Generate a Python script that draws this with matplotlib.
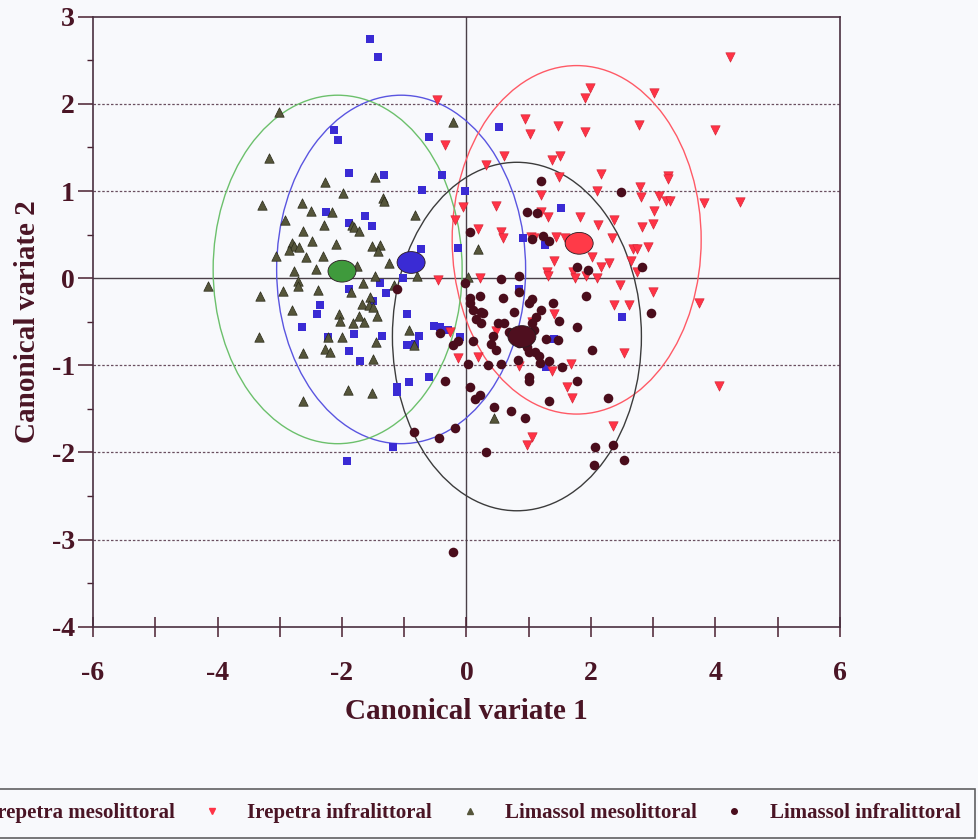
import numpy as np
import matplotlib
matplotlib.use('Agg')
import matplotlib.pyplot as plt
from matplotlib.patches import Ellipse
from matplotlib.lines import Line2D

# Irepetra mesolittoral (blue squares)
ire_meso_x = [-1.55, -1.42, -2.13, -2.06, -0.6, -1.89, -1.32, -0.39, -0.71, -0.03, -2.26, -1.63, -1.89,
              -1.52, -0.73, -0.13, -1.02, -1.39, -1.89, -1.29, -1.5, -2.35, -2.4, -0.95, -2.65, -0.53,
              -0.42, -0.29, -1.81, -1.35, -1.89, -1.71, -0.77, -0.95, -0.11, -0.92, -0.61, -1.11, -1.11,
              -1.18, -1.92, 0.52, 1.52, 0.9, 1.26, 0.84, 2.5, 1.4, 1.27, -2.23, -0.82]
ire_meso_y = [2.75, 2.54, 1.70, 1.59, 1.62, 1.21, 1.18, 1.18, 1.01, 1.0, 0.76, 0.71, 0.63,
              0.6, 0.33, 0.35, 0.0, -0.05, -0.12, -0.17, -0.26, -0.31, -0.41, -0.41, -0.56, -0.55,
              -0.56, -0.59, -0.64, -0.66, -0.84, -0.95, -0.66, -0.77, -0.68, -1.19, -1.14, -1.25, -1.31,
              -1.94, -2.1, 1.73, 0.8, 0.46, 0.38, -0.13, -0.45, -0.7, -1.02, -0.67, -0.76]

# Irepetra infralittoral (red down triangles)
ire_infra_x = [-0.47, -0.34, 0.31, -0.05, -0.18, 0.18, -0.45, 0.21,
               4.24, 1.98, 1.9, 3.02, 0.94, 1.47, 1.02, 1.9, 2.77, 4.0,
               0.61, 1.37, 1.5, 2.16, 1.48, 3.23, 3.24, 2.79, 2.1, 1.19, 2.81, 3.1, 3.21, 3.27, 3.82, 4.4,
               0.48, 3.02, 1.19, 1.82, 1.31, 2.37, 2.11, 2.82, 3.0,
               0.56, 0.58, 1.03, 1.08, 1.44, 1.58, 2.34, 2.68, 2.74, 2.92,
               2.02, 1.4, 2.29, 2.16, 2.65, 1.29, 1.31, 1.71, 1.74, 1.92, 2.1, 2.74,
               2.47, 3.0, 2.37, 2.61, 3.73, 1.4, 2.53, 1.68,
               1.05, -0.26, 0.47, -0.13, 0.19, 0.84, 1.37, 1.61, 1.69, 4.05, 2.35, 1.06, 0.98]
ire_infra_y = [2.05, 1.53, 1.3, 0.82, 0.67, 0.56, -0.02, 0.0,
               2.54, 2.18, 2.07, 2.13, 1.83, 1.75, 1.66, 1.68, 1.76, 1.7,
               1.4, 1.36, 1.4, 1.2, 1.16, 1.17, 1.14, 1.05, 1.0, 0.95, 0.93, 0.94, 0.88, 0.88, 0.86, 0.87,
               0.83, 0.77, 0.76, 0.7, 0.7, 0.67, 0.61, 0.59, 0.62,
               0.53, 0.46, 0.47, 0.46, 0.47, 0.46, 0.46, 0.34, 0.33, 0.36,
               0.24, 0.2, 0.17, 0.13, 0.2, 0.07, 0.02, 0.07, 0.0, 0.03, 0.0, 0.07,
               -0.08, -0.16, -0.31, -0.31, -0.29, -0.41, -0.86, -0.99,
               -0.5, -0.62, -0.61, -0.92, -0.9, -1.01, -1.06, -1.25, -1.37, -1.24, -1.7, -1.82, -1.91]

# Limassol mesolittoral (olive triangles)
lim_meso_x = [-3.02, -3.18, -0.21, -2.27, -1.47, -1.98, -1.34, -1.32, -3.29, -2.65, -2.5, -2.16, -0.82,
              -2.92, -2.29, -1.84, -1.8, -1.73, -2.63, -2.48, -2.8, -2.77, -2.69, -2.85, -2.1, -1.52,
              -1.39, -1.42, -3.06, -2.58, -2.31, -1.24, -1.76, -2.42, -2.77, -1.47, -0.79, 0.18, 0.03,
              -4.16, -3.32, -2.95, -2.71, -2.71, -2.39, -1.66, -1.85, -1.55, -1.68, -1.56, -1.5, -1.16,
              -2.81, -2.05, -1.73, -1.44, -2.03, -1.82, -1.65, -3.34, -2.23, -2.0, -1.45, -2.63, -2.27,
              -2.19, -1.5, -0.92, -0.85, -1.9, -1.52, -2.63, 0.44]
lim_meso_y = [1.91, 1.38, 1.79, 1.1, 1.16, 0.98, 0.92, 0.89, 0.84, 0.86, 0.77, 0.76, 0.72,
              0.67, 0.61, 0.61, 0.59, 0.54, 0.54, 0.43, 0.4, 0.37, 0.36, 0.32, 0.39, 0.37,
              0.38, 0.31, 0.26, 0.24, 0.25, 0.17, 0.14, 0.11, 0.08, 0.03, 0.03, 0.33, 0.01,
              -0.09, -0.2, -0.15, -0.03, -0.09, -0.14, -0.06, -0.16, -0.22, -0.3, -0.31, -0.33, -0.08,
              -0.37, -0.41, -0.43, -0.44, -0.49, -0.51, -0.5, -0.68, -0.67, -0.68, -0.73, -0.86, -0.81,
              -0.85, -0.93, -0.6, -0.77, -1.28, -1.32, -1.41, -1.61]

# Limassol infralittoral (dark dots)
lim_infra_x = [0.98, 1.13, 0.05, 1.06, 1.23, 1.32, 0.55, 0.85, -0.02, -1.11, 0.21, 0.05, 0.06, 0.58,
               0.84, 1.06, 1.0, 1.39, 0.11, 0.26, 0.76, 1.19, 1.48, 0.15, 0.5, 0.6, 1.11, 1.06, -0.42,
               0.42, 0.39, 0.1, -0.13, -0.21, 0.47, 0.98, 1.1, 1.16, 0.82, 1.32, 0.56, 0.35, 0.02, 1.0,
               1.0, -0.35, 1.47, 1.27, 0.68, 1.08, 1.19, 2.48, 1.77, 1.95, 2.82, 1.92, 2.97, 1.77, 2.02,
               1.53, 1.77, 2.27, 1.32, 0.44, 0.71, 0.94, 0.06, 0.21, 0.13, -0.18, 0.32, 2.06, 2.35, 2.53,
               2.05, -0.21, 0.85, 1.0, 1.18, -0.84, -0.44, 0.24, 0.23]
lim_infra_y = [0.76, 0.75, 0.53, 0.45, 0.48, 0.43, -0.01, 0.02, -0.06, -0.13, -0.21, -0.23, -0.29, -0.23,
               -0.16, -0.24, -0.28, -0.29, -0.37, -0.4, -0.39, -0.37, -0.49, -0.47, -0.51, -0.51, -0.45,
               -0.52, -0.63, -0.66, -0.75, -0.72, -0.72, -0.77, -0.83, -0.79, -0.85, -0.89, -0.94, -0.95,
               -0.98, -1.0, -0.99, -1.13, -1.18, -1.18, -0.71, -0.7, -0.62, -0.6, 1.12, 0.99, 0.13, 0.09,
               0.13, -0.2, -0.4, -0.56, -0.82, -1.02, -1.18, -1.38, -1.41, -1.48, -1.52, -1.6, -1.25,
               -1.34, -1.39, -1.72, -1.99, -1.94, -1.92, -2.09, -2.15, -3.14, -0.74, -0.85, -0.97, -1.77,
               -1.83, -0.39, -0.51]

# group centroids and confidence circles
cent_x = [-0.89, 1.81, -2.0, 0.89]
cent_y = [0.18, 0.40, 0.08, -0.67]
circ_x = [-1.05, 1.77, -2.07, 0.81]
circ_y = [0.10, 0.44, 0.10, -0.67]
circ_r = 2.0

names = ['Irepetra mesolittoral', 'Irepetra infralittoral', 'Limassol mesolittoral', 'Limassol infralittoral']
pt_col = ['#3a2bd4', '#ff3346', '#55553a', '#4a0d1c']
cent_col = ['#3a2bd4', '#ff3a48', '#3f9a3c', '#4f0f1f']
circ_col = ['#5a55e0', '#ff5a66', '#6cc06c', '#3c3c3c']
txt = '#4a1525'
bg = '#f8f9fc'

plt.rcParams['font.family'] = ['Liberation Serif', 'DejaVu Serif']
plt.rcParams['font.weight'] = 'bold'
plt.rcParams['axes.labelweight'] = 'bold'
plt.rcParams['axes.unicode_minus'] = False

fig = plt.figure(figsize=(9.79, 8.4), dpi=100, facecolor=bg)
ax = fig.add_axes([0.095, 0.254, 0.763, 0.726], facecolor=bg)

# grid lines
for yv in [2, 1, -1, -2, -3]:
    ax.axhline(yv, color='#6a5060', lw=0.9, ls=(0, (2, 1.5)), zorder=1)
ax.axhline(0, color='#4a4048', lw=1.0, zorder=1)
ax.axvline(0, color='#4a4048', lw=1.0, zorder=1)

for i in range(4):
    ax.add_patch(Ellipse((circ_x[i], circ_y[i]), 2 * circ_r, 2 * circ_r, fill=False,
                         ec=circ_col[i], lw=1.0, zorder=2))

ax.scatter(ire_meso_x, ire_meso_y, marker='s', s=32, c=pt_col[0], lw=0, zorder=3)
ax.scatter(ire_infra_x, ire_infra_y, marker='v', s=46, c=pt_col[1], ec='#d02030', lw=0.4, zorder=3)
ax.scatter(lim_meso_x, lim_meso_y, marker='^', s=46, c=pt_col[2], ec='#2a2a1a', lw=0.5, zorder=3)
ax.scatter(lim_infra_x, lim_infra_y, marker='o', s=48, c=pt_col[3], lw=0, zorder=3)

for i in range(4):
    ax.add_patch(Ellipse((cent_x[i], cent_y[i]), 0.45, 0.25, fc=cent_col[i],
                         ec='#2a1a20', lw=0.6, zorder=4))

ax.set_xlim(-6, 6)
ax.set_ylim(-4, 3)
ax.set_xticks([-6, -4, -2, 0, 2, 4, 6])
ax.set_xticks([-5, -3, -1, 1, 3, 5], minor=True)
ax.set_yticks(range(-4, 4))
ax.set_yticks(np.arange(-3.5, 3, 1.0), minor=True)
ax.tick_params(axis='x', which='both', direction='inout', length=15, width=1.1, color='#4a2030',
               labelsize=20, labelcolor=txt, pad=17)
ax.tick_params(axis='y', which='major', direction='out', length=11, width=1.1, color='#4a2030',
               labelsize=20, labelcolor=txt, pad=2)
ax.tick_params(axis='y', which='minor', direction='out', length=4, width=1.0, color='#4a2030')
for lab in ax.get_xticklabels() + ax.get_yticklabels():
    lab.set_fontweight('bold')
for s in ax.spines.values():
    s.set_color('#4a3040')
    s.set_linewidth(1.2)

ax.set_xlabel('Canonical variate 1', fontsize=21, fontweight='bold', color=txt, labelpad=9)
ax.set_ylabel('Canonical variate 2', fontsize=21, fontweight='bold', color=txt, labelpad=8)

handles = [
    Line2D([], [], ls='none', marker='s', ms=4, color=pt_col[0]),
    Line2D([], [], ls='none', marker='v', ms=5, color=pt_col[1]),
    Line2D([], [], ls='none', marker='^', ms=5, color=pt_col[2]),
    Line2D([], [], ls='none', marker='o', ms=4, color=pt_col[3]),
]
leg = fig.legend(handles, names, loc='center right', bbox_to_anchor=(0.996, 0.032), ncol=4,
                 frameon=True, fancybox=False, edgecolor='#3a3a3a', facecolor=bg,
                 prop={'size': 15, 'weight': 'bold'}, handletextpad=1.2, columnspacing=1.3,
                 borderpad=0.7, handlelength=1.0, borderaxespad=0)
leg.get_frame().set_linewidth(1.2)
for t in leg.get_texts():
    t.set_color(txt)

fig.savefig('out.png', dpi=100, facecolor=bg)
